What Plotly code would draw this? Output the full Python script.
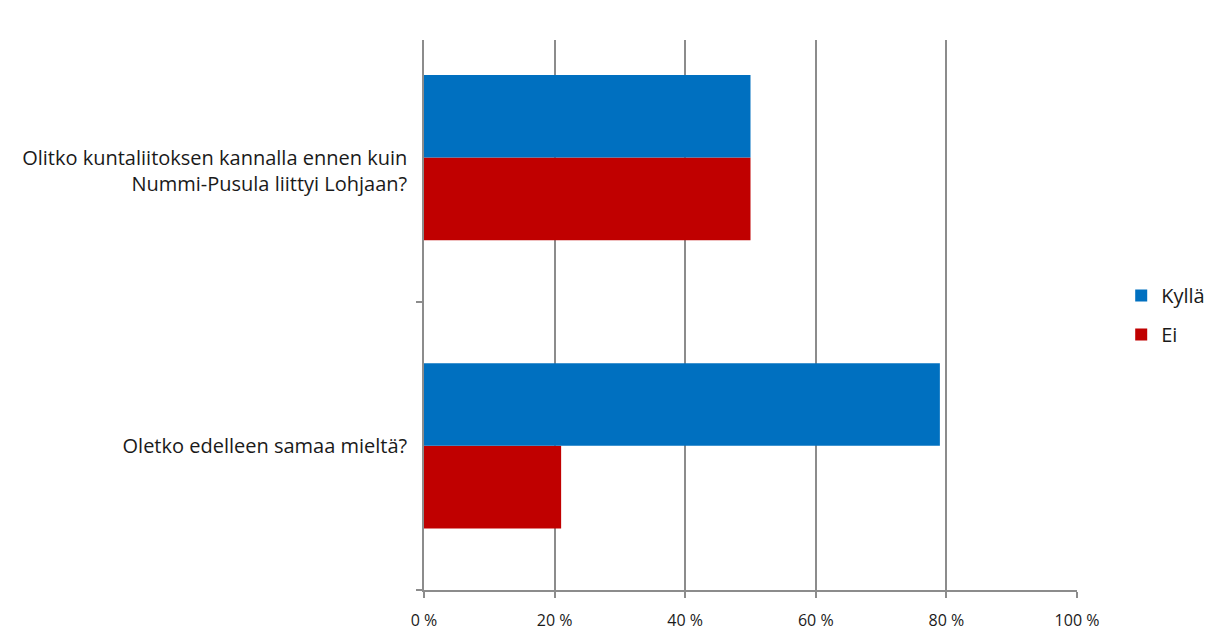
import plotly.graph_objects as go

categories = ["Oletko edelleen samaa mieltä?",
              "<br>Olitko kuntaliitoksen kannalla ennen kuin<br>Nummi-Pusula liittyi Lohjaan?"]
kylla = [79, 50]
ei = [21, 50]
x_ticks = [0, 20, 40, 60, 80, 100]
x_tick_labels = ["0 %", "20 %", "40 %", "60 %", "80 %", "100 %"]

FONT = "Open Sans"

fig = go.Figure()
fig.add_trace(go.Bar(y=categories, x=ei, name="Ei", orientation="h", legendgroup="ei",
                     legendrank=2,
                     marker=dict(color="#C00000", line=dict(width=0))))
fig.add_trace(go.Bar(y=categories, x=kylla, name="Kyllä", orientation="h", legendgroup="kylla",
                     legendrank=1,
                     marker=dict(color="#0070C0", line=dict(width=0))))

fig.update_layout(
    width=1211, height=630,
    margin=dict(l=424, r=134, t=40, b=40, autoexpand=False),
    paper_bgcolor="white", plot_bgcolor="white",
    barmode="group", bargap=0.426, bargroupgap=0,
    font=dict(family=FONT, size=20, color="#1a1a1a"),
    legend=dict(traceorder="grouped", x=1.0677, y=0.5, yanchor="middle",
                xanchor="left", font=dict(size=20, color="#1a1a1a"),
                itemwidth=30, tracegroupgap=10),
    xaxis=dict(range=[0, 100], tickvals=x_ticks, ticktext=x_tick_labels,
               showgrid=True, gridcolor="#8c8c8c", gridwidth=1.5,
               showline=True, linecolor="#8c8c8c", linewidth=1.5,
               ticks="outside", ticklen=6, tickcolor="#8c8c8c", tickwidth=1.5,
               ticklabelstandoff=9, automargin=False,
               tickfont=dict(size=16, color="#1a1a1a"), zeroline=False),
    yaxis=dict(type="category", range=[-0.5, 1.408],
               categoryorder="array", categoryarray=categories,
               showline=True, linecolor="#8c8c8c", linewidth=1.5,
               ticks="outside", ticklen=6, tickcolor="#8c8c8c", tickwidth=1.5,
               tickson="boundaries", ticklabelstandoff=11, automargin=False,
               tickfont=dict(size=20, color="#1a1a1a"), showgrid=False),
    yaxis2=dict(overlaying="y", range=[-0.5, 1.408], tickvals=[1.408],
                showticklabels=False, ticks="outside", ticklen=6,
                tickcolor="#8c8c8c", tickwidth=1.5, showgrid=False,
                zeroline=False, side="left", showline=False, automargin=False),
    showlegend=True,
)

fig.write_html("out.html", config={"displayModeBar": False},
               post_script="document.body.style.margin='0';")
